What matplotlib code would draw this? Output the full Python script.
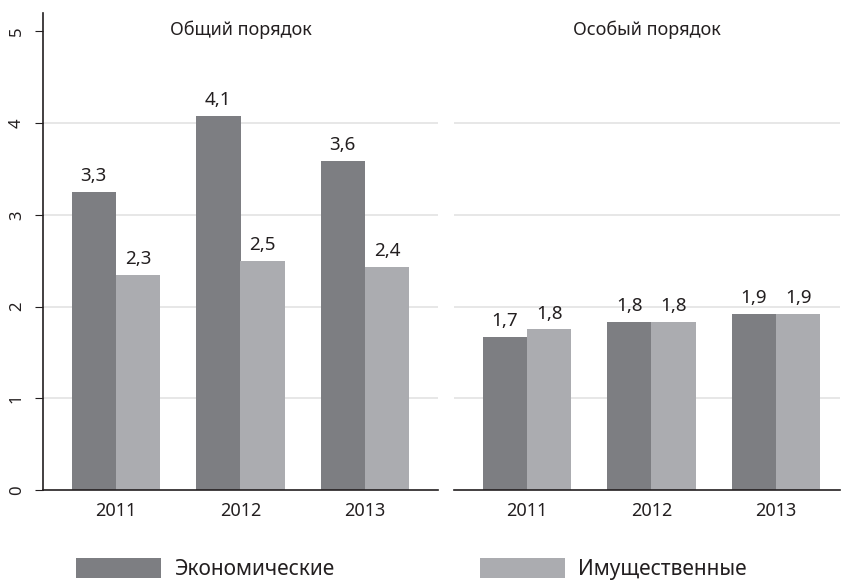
import numpy as np
import matplotlib
matplotlib.use("Agg")
import matplotlib.pyplot as plt

plt.rcParams['font.family'] = ['Noto Sans', 'DejaVu Sans']

years = ['2011', '2012', '2013']
panels = ['Общий порядок', 'Особый порядок']
series = ['Экономические', 'Имущественные']

# values per panel: [economic, property]
general_econ = [3.25, 4.08, 3.59]
general_prop = [2.34, 2.50, 2.43]
special_econ = [1.67, 1.83, 1.92]
special_prop = [1.75, 1.83, 1.92]

general_labels = [['3,3', '4,1', '3,6'], ['2,3', '2,5', '2,4']]
special_labels = [['1,7', '1,8', '1,9'], ['1,8', '1,8', '1,9']]

dark = '#7d7e82'
light = '#abacb0'
text_col = '#231f20'

fig = plt.figure(figsize=(8.42, 5.81), dpi=100)
ax1 = fig.add_axes([43/842, 1-490/581, 395/842, 477/581])
ax2 = fig.add_axes([454/842, 1-490/581, 386/842, 477/581])

x = np.arange(len(years))
w = 0.357

data = [(ax1, general_econ, general_prop, general_labels, panels[0], 2.586),
        (ax2, special_econ, special_prop, special_labels, panels[1], 2.514)]

for ax, econ, prop, labs, title, xr in data:
    for k in range(1, 5):
        ax.axhline(k, color='#e3e3e3', lw=1.2, zorder=0)
    b1 = ax.bar(x - w/2, econ, w, color=dark, label=series[0], zorder=2)
    b2 = ax.bar(x + w/2, prop, w, color=light, label=series[1], zorder=2)
    for bars, ll in [(b1, labs[0]), (b2, labs[1])]:
        for r, t in zip(bars, ll):
            ax.annotate(t, (r.get_x() + r.get_width()/2, r.get_height()),
                        xytext=(0, 5), textcoords='offset points',
                        ha='center', va='bottom', fontsize=13.5, color=text_col)
    ax.set_xlim(-0.586, xr)
    ax.set_ylim(0, 5.2)
    ax.set_xticks(x)
    ax.set_xticklabels(years, fontsize=13, color=text_col)
    ax.tick_params(axis='x', length=0, pad=9)
    ax.text(0.5, 0.964, title, transform=ax.transAxes, ha='center', va='center',
            fontsize=13, color=text_col)
    for s in ['top', 'right']:
        ax.spines[s].set_visible(False)
    ax.spines['bottom'].set_color('#231f20')
    ax.spines['bottom'].set_linewidth(1.2)

ax1.set_yticks(range(6))
ax1.set_yticklabels([str(v) for v in range(6)], rotation=90, va='center',
                    fontsize=12, color=text_col)
ax1.tick_params(axis='y', length=6, color='#231f20', pad=7)
ax1.spines['left'].set_color('#231f20')
ax1.spines['left'].set_linewidth(1.2)

ax2.spines['left'].set_visible(False)
ax2.set_yticks([])

h1, l1 = ax1.get_legend_handles_labels()
leg_kw = dict(frameon=False, fontsize=15, handlelength=4.1, handleheight=1.1,
              handletextpad=0.6, borderpad=0, borderaxespad=0)
fig.legend([h1[0]], [l1[0]], loc='lower left', bbox_to_anchor=(76/842, 1/581), **leg_kw)
fig.legend([h1[1]], [l1[1]], loc='lower left', bbox_to_anchor=(480/842, 1/581), **leg_kw)
for t in fig.legends[0].get_texts() + fig.legends[1].get_texts():
    t.set_color(text_col)

fig.savefig('out.png', dpi=100)
